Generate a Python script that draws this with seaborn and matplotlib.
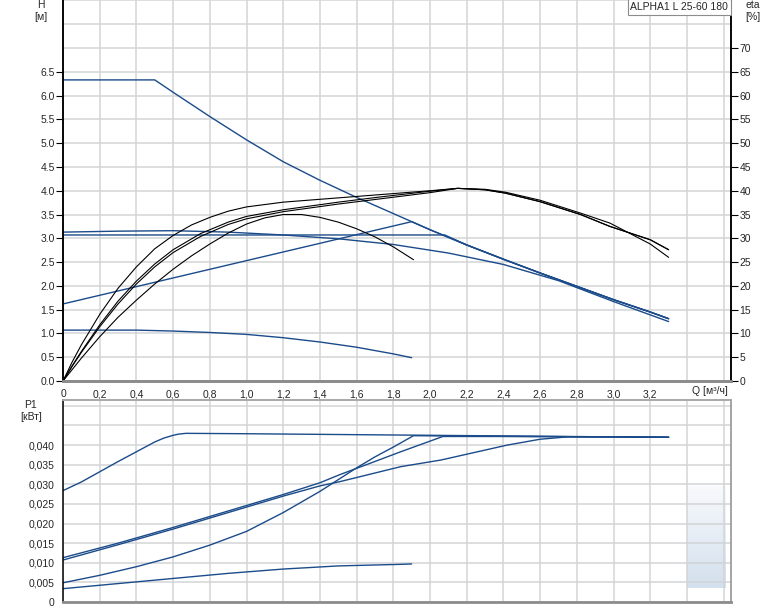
import numpy as np
import matplotlib
matplotlib.use('Agg')
import matplotlib.pyplot as plt
import seaborn as sns
from matplotlib.colors import LinearSegmentedColormap

# --- data ---
# head curves H [m] vs Q [m3/h]
q_max = [0, 0.5, 0.6, 0.8, 1.0, 1.2, 1.4, 1.6, 1.8, 2.0, 2.2, 2.4, 2.6, 2.8, 3.0, 3.2, 3.3]
h_max = [6.33, 6.33, 6.07, 5.56, 5.07, 4.61, 4.22, 3.86, 3.52, 3.18, 2.86, 2.56, 2.27, 1.99, 1.71, 1.45, 1.31]

q_pp = [0, 1.9, 2.0, 2.2, 2.4, 2.6, 2.8, 3.0, 3.2, 3.3]
h_pp = [1.62, 3.35, 3.18, 2.86, 2.56, 2.27, 1.99, 1.71, 1.45, 1.31]

q_cp = [0, 2.08, 2.2, 2.4, 2.6, 2.8, 3.0, 3.2, 3.3]
h_cp = [3.07, 3.07, 2.86, 2.56, 2.27, 1.99, 1.71, 1.45, 1.31]

q_aa = [0, 0.3, 0.6, 0.9, 1.2, 1.5, 1.8, 2.1, 2.4, 2.7, 3.0, 3.3]
h_aa = [3.13, 3.15, 3.16, 3.13, 3.07, 2.99, 2.87, 2.69, 2.45, 2.11, 1.67, 1.25]

q_min = [0, 0.4, 0.6, 0.8, 1.0, 1.2, 1.4, 1.6, 1.8, 1.9]
h_min = [1.07, 1.07, 1.05, 1.02, 0.98, 0.91, 0.82, 0.71, 0.57, 0.49]

# efficiency curves eta [%]
q_eta_hi = [0, 0.05, 0.1, 0.2, 0.3, 0.4, 0.5, 0.6, 0.7, 0.8, 0.9, 1.0, 1.2, 1.4, 1.6, 1.8, 2.0, 2.15]
eta_hi = [0, 4.0, 7.6, 14.0, 19.5, 24.0, 27.8, 30.6, 32.8, 34.4, 35.7, 36.6, 37.6, 38.2, 38.8, 39.4, 40.0, 40.5]

q_eta_a = [0, 0.05, 0.1, 0.2, 0.3, 0.4, 0.5, 0.6, 0.75, 0.9, 1.0, 1.2, 1.5, 1.73, 2.0, 2.15]
eta_a = [0, 3.2, 6.2, 11.8, 16.8, 21.0, 24.6, 27.6, 31.0, 33.4, 34.6, 36.0, 37.6, 38.7, 39.9, 40.5]

q_eta_b = [0, 0.05, 0.1, 0.2, 0.3, 0.4, 0.5, 0.6, 0.75, 0.9, 1.0, 1.2, 1.5, 1.73, 2.0, 2.15]
eta_b = [0, 3.1, 6.0, 11.4, 16.2, 20.4, 24.0, 27.0, 30.4, 32.9, 34.1, 35.6, 37.2, 38.3, 39.6, 40.5]

q_tail_main = [2.3, 2.41, 2.6, 2.82, 2.98, 3.2, 3.3]
eta_tail_main = [40.2, 39.5, 37.7, 35.0, 32.5, 29.7, 27.6]
q_tail_b = [2.3, 2.41, 2.6, 2.82, 2.98, 3.2, 3.3]
eta_tail_b = [40.3, 39.7, 38.0, 35.3, 33.2, 28.8, 26.0]

q_eta_s = [0, 0.1, 0.2, 0.3, 0.4, 0.5, 0.6, 0.7, 0.8, 0.9, 1.0, 1.1, 1.2, 1.3, 1.4, 1.5, 1.6, 1.7, 1.8, 1.91]
eta_s = [0, 4.8, 9.3, 13.4, 17.0, 20.4, 23.5, 26.3, 28.8, 31.1, 33.0, 34.3, 35.0, 35.0, 34.4, 33.4, 32.0, 30.3, 28.2, 25.5]

# power curves P1 [kW]
q_p_max = [0, 0.1, 0.2, 0.3, 0.4, 0.5, 0.55, 0.6, 0.63, 0.67, 1.0, 1.5, 2.0, 2.5, 3.0, 3.3]
p_max = [0.0284, 0.0306, 0.0332, 0.0358, 0.0383, 0.0408, 0.0418, 0.0425, 0.0428, 0.0430, 0.0429,
         0.0427, 0.0425, 0.0423, 0.0421, 0.0420]

q_p_pp = [0, 0.2, 0.4, 0.6, 0.8, 1.0, 1.2, 1.4, 1.5, 1.6, 1.7, 1.8, 1.91, 2.5, 3.0, 3.3]
p_pp = [0.0049, 0.0068, 0.0090, 0.0115, 0.0145, 0.0180, 0.0228, 0.0282, 0.0312, 0.0342, 0.0370,
        0.0395, 0.0424, 0.0422, 0.0421, 0.0420]

q_p_cp = [0, 0.3, 0.6, 1.0, 1.2, 1.4, 1.51, 1.63, 1.84, 2.07, 2.5, 3.0, 3.3]
p_cp = [0.0113, 0.0150, 0.0190, 0.0246, 0.0274, 0.0304, 0.0325, 0.0346, 0.0383, 0.0422, 0.0422, 0.0421, 0.0420]

q_p_aa = [0, 0.3, 0.6, 1.0, 1.2, 1.4, 1.51, 1.84, 2.06, 2.42, 2.6, 2.75, 3.0, 3.3]
p_aa = [0.0107, 0.0146, 0.0186, 0.0242, 0.0270, 0.0296, 0.0307, 0.0345, 0.0362, 0.0400, 0.0415,
        0.0421, 0.0421, 0.0420]

q_p_min = [0, 0.3, 0.6, 0.9, 1.2, 1.5, 1.84, 1.9]
p_min = [0.0034, 0.0047, 0.0060, 0.0073, 0.0084, 0.0092, 0.0096, 0.0097]

# tick labels
x_ticks = [0, 0.2, 0.4, 0.6, 0.8, 1.0, 1.2, 1.4, 1.6, 1.8, 2.0, 2.2, 2.4, 2.6, 2.8, 3.0, 3.2, 3.4, 3.6]
x_labels = ['0', '0,2', '0,4', '0,6', '0,8', '1,0', '1,2', '1,4', '1,6', '1,8', '2,0',
            '2,2', '2,4', '2,6', '2,8', '3,0', '3,2', '', '']
h_ticks = [0.0, 0.5, 1.0, 1.5, 2.0, 2.5, 3.0, 3.5, 4.0, 4.5, 5.0, 5.5, 6.0, 6.5]
h_grid_extra = [7.0, 7.5, 8.0]
eta_ticks = [0, 5, 10, 15, 20, 25, 30, 35, 40, 45, 50, 55, 60, 65, 70]
p_ticks = [0, 0.005, 0.010, 0.015, 0.020, 0.025, 0.030, 0.035, 0.040, 0.045, 0.050]
p_labels = ['0', '0,005', '0,010', '0,015', '0,020', '0,025', '0,030', '0,035', '0,040', '', '']

# --- styling ---
sns.set_style('white')
plt.rcParams['font.family'] = ['Liberation Sans', 'DejaVu Sans']
BLUE = '#1b4b8a'
GRID = '#d2d4d6'
FS = 7.5
W, H = 774, 611

fig = plt.figure(figsize=(W / 100, H / 100), dpi=100)
ax = fig.add_axes([63 / W, 1 - 381 / H, 668 / W, 381 / H])
ax_r = ax.twinx()
axp = fig.add_axes([63 / W, 9 / H, 668 / W, 202 / H])


def line(a, x, y, color, lw):
    sns.lineplot(x=x, y=y, ax=a, color=color, linewidth=lw, estimator=None, sort=False)


# head curves
for qq, hh in [(q_max, h_max), (q_pp, h_pp), (q_cp, h_cp), (q_aa, h_aa), (q_min, h_min)]:
    line(ax, qq, hh, BLUE, 1.0)

# efficiency curves
line(ax_r, q_eta_hi + q_tail_main, eta_hi + eta_tail_main, 'black', 0.8)
line(ax_r, q_eta_a + q_tail_main, eta_a + eta_tail_main, 'black', 0.8)
line(ax_r, q_eta_b + q_tail_b, eta_b + eta_tail_b, 'black', 0.8)
line(ax_r, q_eta_s, eta_s, 'black', 0.8)

# power curves
for qq, pp in [(q_p_max, p_max), (q_p_pp, p_pp), (q_p_cp, p_cp), (q_p_aa, p_aa), (q_p_min, p_min)]:
    line(axp, qq, pp, BLUE, 1.0)

# faint watermark block in the lower right
cmap = LinearSegmentedColormap.from_list('wm', ['#f4f7fb', '#bccfe4'])
axp.imshow(np.linspace(0, 1, 60).reshape(-1, 1), extent=[3.40, 3.61, 0.0036, 0.0296],
           cmap=cmap, aspect='auto', origin='upper', alpha=0.65, zorder=0.5)

# --- axes: top panel ---
ax.set_xlim(0, 3.64)
ax.set_ylim(0, 8.01)
ax_r.set_ylim(0, 80.1)
ax.set_xticks(x_ticks)
ax.set_xticklabels(x_labels, fontsize=FS)
ax.set_yticks(h_ticks)
ax.set_yticklabels([f'{v:.1f}' for v in h_ticks], fontsize=FS)
ax.set_yticks(h_grid_extra, minor=True)
ax_r.set_yticks(eta_ticks)
ax_r.set_yticklabels([str(v) for v in eta_ticks], fontsize=FS)
ax.grid(True, which='both', color=GRID, linewidth=1.1)
ax.set_axisbelow(True)
ax.tick_params(axis='y', which='major', direction='out', length=5, width=0.8, color='black', pad=1)
ax.tick_params(axis='y', which='minor', length=0)
ax.tick_params(axis='x', direction='out', length=2, width=0.8, color='#999999', pad=4)
ax_r.tick_params(axis='y', direction='out', length=5, width=0.8, color='black', pad=1)
for a in (ax, ax_r):
    a.set_xlabel('')
    a.set_ylabel('')
    a.spines['top'].set_visible(False)
    a.spines['left'].set_color('black')
    a.spines['left'].set_linewidth(1.1)
    a.spines['right'].set_color('black')
    a.spines['right'].set_linewidth(1.1)
    a.spines['bottom'].set_color('#8c8c8c')
    a.spines['bottom'].set_linewidth(2.0)

# --- axes: bottom panel ---
axp.set_xlim(0, 3.64)
axp.set_ylim(0, 0.0515)
axp.set_xticks(x_ticks)
axp.set_xticklabels([])
axp.set_yticks(p_ticks)
axp.set_yticklabels(p_labels, fontsize=FS)
axp.grid(True, color=GRID, linewidth=1.1)
axp.set_axisbelow(True)
axp.tick_params(axis='y', direction='out', length=5, width=0.8, color='black', pad=1)
axp.tick_params(axis='x', length=0)
axp.set_xlabel('')
axp.set_ylabel('')
axp.spines['left'].set_color('black')
axp.spines['left'].set_linewidth(1.1)
axp.spines['top'].set_color('#a8a8a8')
axp.spines['top'].set_linewidth(1.4)
axp.spines['right'].set_color('#8c8c8c')
axp.spines['right'].set_linewidth(1.1)
axp.spines['bottom'].set_color('#8c8c8c')
axp.spines['bottom'].set_linewidth(2.0)

# --- texts ---
def ftext(x, y, s, **kw):
    fig.text(x / W, 1 - y / H, s, fontsize=FS, ha='center', va='center', **kw)


ftext(41, 5, 'H')
ftext(41, 17, '[м]')
ftext(753, 5, 'eta')
ftext(753, 17, '[%]')
ftext(31, 405, 'P1')
ftext(31, 417, '[кВт]')
ftext(710, 391, 'Q [м³/ч]')
fig.text(728 / W, 1 - 2 / H, 'ALPHA1 L 25-60 180', fontsize=FS, ha='right', va='top',
         bbox=dict(boxstyle='square,pad=0.25', facecolor='white', edgecolor='#8c8c8c', linewidth=0.8))

plt.savefig('out.png', dpi=100)
